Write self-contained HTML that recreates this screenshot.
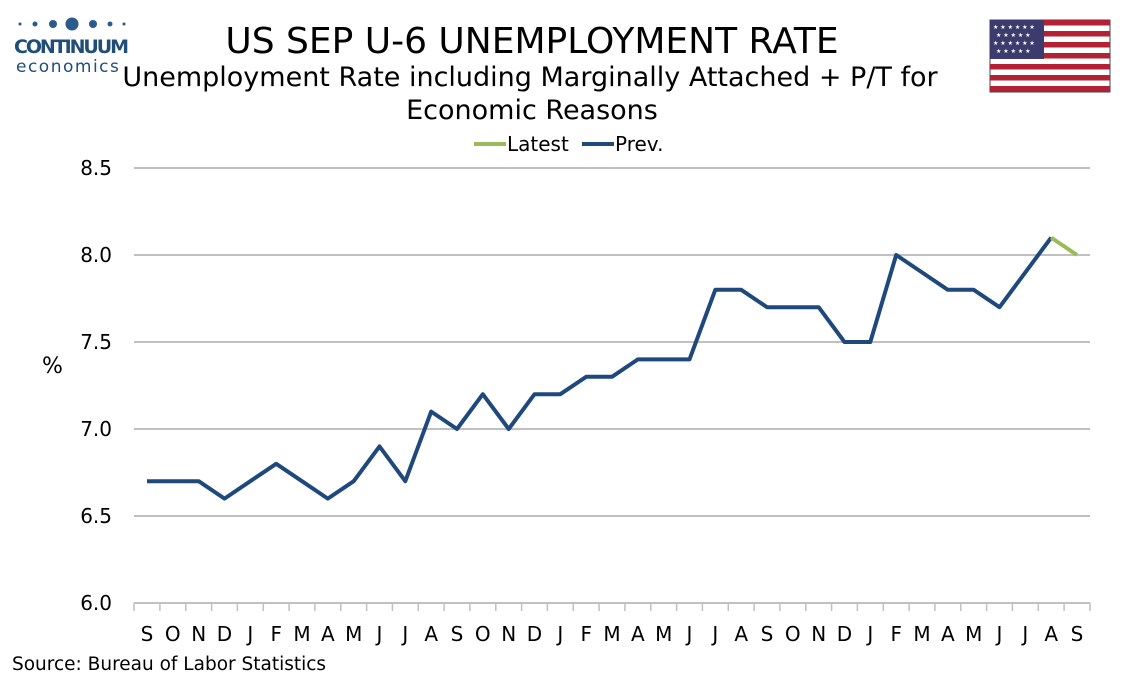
<!DOCTYPE html>
<html><head><meta charset="utf-8"><style>
body{margin:0;background:#fff;}
svg text{font-family:"DejaVu Sans","Liberation Sans",sans-serif;fill:#000;}
</style></head><body>
<svg width="1134" height="680" viewBox="0 0 1134 680" xmlns="http://www.w3.org/2000/svg">
<g fill="#2b5b8c">
<circle cx="20" cy="24" r="1.5"/><circle cx="35" cy="24" r="2.5"/><circle cx="53" cy="24" r="4"/>
<circle cx="72" cy="24" r="6.5"/><circle cx="93" cy="24" r="4"/><circle cx="110" cy="24" r="2.5"/><circle cx="124" cy="24" r="1.5"/>
</g>
<text x="14" y="53" font-size="19" font-weight="bold" style="fill:#1f4e79" textLength="115">CONTINUUM</text>
<text x="16" y="72" font-size="17" style="fill:#1f4e79" letter-spacing="1.5">economics</text>
<text x="532" y="53" font-size="36" text-anchor="middle">US SEP U-6 UNEMPLOYMENT RATE</text>
<text x="530" y="86" font-size="27" text-anchor="middle">Unemployment Rate including Marginally Attached + P/T for</text>
<text x="532" y="119" font-size="27" text-anchor="middle">Economic Reasons</text>
<line x1="474" y1="144" x2="506" y2="144" stroke="#9bbb59" stroke-width="4"/>
<text x="507" y="151" font-size="20">Latest</text>
<line x1="582" y1="144" x2="614" y2="144" stroke="#1f497d" stroke-width="4"/>
<text x="615" y="151" font-size="20">Prev.</text>
<g>
<rect x="990" y="20" width="120" height="72" fill="#fff" stroke="#444"/>
<g fill="#b22234">
<rect x="990" y="20" width="120" height="5.5"/><rect x="990" y="31" width="120" height="5.5"/>
<rect x="990" y="42" width="120" height="5.5"/><rect x="990" y="53" width="120" height="5.5"/>
<rect x="990" y="64" width="120" height="5.5"/><rect x="990" y="75" width="120" height="5.5"/>
<rect x="990" y="86" width="120" height="5.5"/>
</g>
<rect x="990" y="20" width="54" height="39" fill="#3c3b6e"/>
<g font-size="6"><text x="993" y="29" style="fill:#fff">★ ★ ★ ★ ★ ★</text><text x="996" y="37" style="fill:#fff">★ ★ ★ ★ ★</text><text x="993" y="45" style="fill:#fff">★ ★ ★ ★ ★ ★</text><text x="996" y="53" style="fill:#fff">★ ★ ★ ★ ★</text></g>
</g>
<g stroke="#c0c0c0" stroke-width="2">
<line x1="134" y1="168" x2="1090" y2="168"/>
<line x1="134" y1="255" x2="1090" y2="255"/>
<line x1="134" y1="342" x2="1090" y2="342"/>
<line x1="134" y1="429" x2="1090" y2="429"/>
<line x1="134" y1="516" x2="1090" y2="516"/>
<line x1="134" y1="603" x2="1090" y2="603"/>
</g>
<g font-size="20" text-anchor="end">
<text x="112" y="175">8.5</text><text x="112" y="262">8.0</text><text x="112" y="349">7.5</text>
<text x="112" y="436">7.0</text><text x="112" y="523">6.5</text><text x="112" y="610">6.0</text>
</g>
<text x="42" y="373" font-size="22">%</text>
<g font-size="20" text-anchor="middle">
<text x="147" y="641">S</text><text x="172.8" y="641">O</text><text x="198.7" y="641">N</text><text x="224.5" y="641">D</text>
<text x="250.3" y="641">J</text><text x="276.2" y="641">F</text><text x="302" y="641">M</text><text x="327.8" y="641">A</text>
<text x="353.7" y="641">M</text><text x="379.5" y="641">J</text><text x="405.3" y="641">J</text><text x="431.2" y="641">A</text>
<text x="457" y="641">S</text><text x="482.8" y="641">O</text><text x="508.7" y="641">N</text><text x="534.5" y="641">D</text>
<text x="560.3" y="641">J</text><text x="586.2" y="641">F</text><text x="612" y="641">M</text><text x="637.8" y="641">A</text>
<text x="663.7" y="641">M</text><text x="689.5" y="641">J</text><text x="715.3" y="641">J</text><text x="741.2" y="641">A</text>
<text x="767" y="641">S</text><text x="792.8" y="641">O</text><text x="818.7" y="641">N</text><text x="844.5" y="641">D</text>
<text x="870.3" y="641">J</text><text x="896.2" y="641">F</text><text x="922" y="641">M</text><text x="947.8" y="641">A</text>
<text x="973.7" y="641">M</text><text x="999.5" y="641">J</text><text x="1025.3" y="641">J</text><text x="1051.2" y="641">A</text>
<text x="1077" y="641">S</text>
</g>
<polyline fill="none" stroke="#1f497d" stroke-width="4" stroke-linejoin="round" points="147,481.2 172.8,481.2 198.7,481.2 224.5,498.6 250.3,481.2 276.2,463.8 302,481.2 327.8,498.6 353.7,481.2 379.5,446.4 405.3,481.2 431.2,411.6 457,429 482.8,394.2 508.7,429 534.5,394.2 560.3,394.2 586.2,376.8 612,376.8 637.8,359.4 663.7,359.4 689.5,359.4 715.3,289.8 741.2,289.8 767,307.2 792.8,307.2 818.7,307.2 844.5,342 870.3,342 896.2,255 922,272.4 947.8,289.8 973.7,289.8 999.5,307.2 1025.3,272.4 1051.2,237.6"/>
<polyline fill="none" stroke="#9bbb59" stroke-width="4" points="1051.2,237.6 1077,255"/>
<text x="12" y="670" font-size="18.5">Source: Bureau of Labor Statistics</text>
<g stroke="#c0c0c0" stroke-width="1.5">
<line x1="134" y1="603" x2="134" y2="611"/><line x1="1090" y1="603" x2="1090" y2="611"/>
<line x1="159.9" y1="603" x2="159.9" y2="611"/><line x1="185.8" y1="603" x2="185.8" y2="611"/><line x1="211.6" y1="603" x2="211.6" y2="611"/>
<line x1="237.4" y1="603" x2="237.4" y2="611"/><line x1="263.3" y1="603" x2="263.3" y2="611"/><line x1="289.1" y1="603" x2="289.1" y2="611"/>
<line x1="314.9" y1="603" x2="314.9" y2="611"/><line x1="340.8" y1="603" x2="340.8" y2="611"/><line x1="366.6" y1="603" x2="366.6" y2="611"/>
<line x1="392.4" y1="603" x2="392.4" y2="611"/><line x1="418.3" y1="603" x2="418.3" y2="611"/><line x1="444.1" y1="603" x2="444.1" y2="611"/>
<line x1="469.9" y1="603" x2="469.9" y2="611"/><line x1="495.8" y1="603" x2="495.8" y2="611"/><line x1="521.6" y1="603" x2="521.6" y2="611"/>
<line x1="547.4" y1="603" x2="547.4" y2="611"/><line x1="573.3" y1="603" x2="573.3" y2="611"/><line x1="599.1" y1="603" x2="599.1" y2="611"/>
<line x1="624.9" y1="603" x2="624.9" y2="611"/><line x1="650.8" y1="603" x2="650.8" y2="611"/><line x1="676.6" y1="603" x2="676.6" y2="611"/>
<line x1="702.4" y1="603" x2="702.4" y2="611"/><line x1="728.3" y1="603" x2="728.3" y2="611"/><line x1="754.1" y1="603" x2="754.1" y2="611"/>
<line x1="779.9" y1="603" x2="779.9" y2="611"/><line x1="805.8" y1="603" x2="805.8" y2="611"/><line x1="831.6" y1="603" x2="831.6" y2="611"/>
<line x1="857.4" y1="603" x2="857.4" y2="611"/><line x1="883.3" y1="603" x2="883.3" y2="611"/><line x1="909.1" y1="603" x2="909.1" y2="611"/>
<line x1="934.9" y1="603" x2="934.9" y2="611"/><line x1="960.8" y1="603" x2="960.8" y2="611"/><line x1="986.6" y1="603" x2="986.6" y2="611"/>
<line x1="1012.4" y1="603" x2="1012.4" y2="611"/><line x1="1038.3" y1="603" x2="1038.3" y2="611"/><line x1="1064.1" y1="603" x2="1064.1" y2="611"/>
</g>
</svg>
</body></html>
